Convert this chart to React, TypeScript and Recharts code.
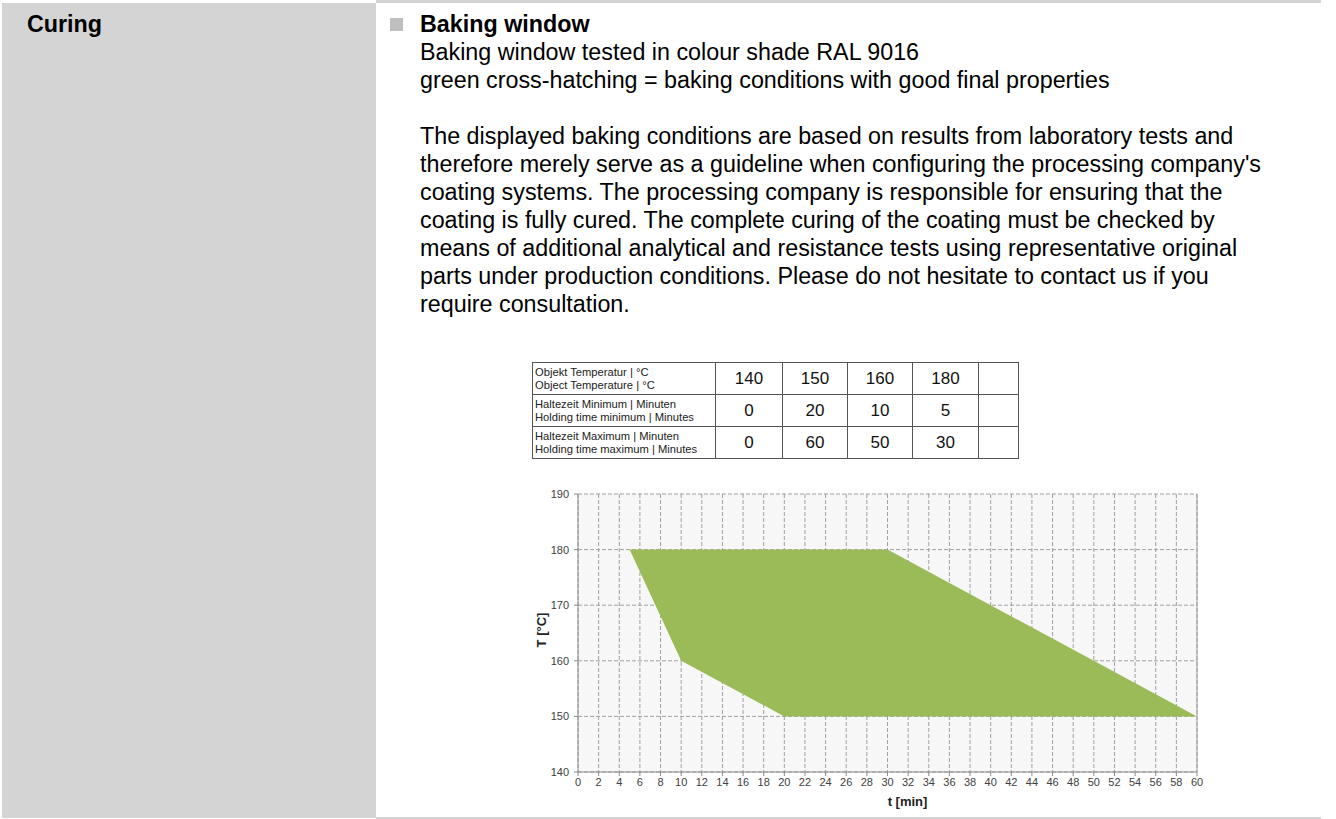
// Baking window sheet: text block, holding-time table and the curing window chart
import React from "react";
import {
  ComposedChart,
  Area,
  XAxis,
  YAxis,
  CartesianGrid,
  ReferenceLine,
} from "recharts";

// table values (°C / minutes)
const objectTemps = [140, 150, 160, 180];
const holdMin = [0, 20, 10, 5];
const holdMax = [0, 60, 50, 30];

// window outline: time in minutes, lower and upper temperature
const windowTimes = [5, 10, 20, 30, 50, 60];
const windowLower = [180, 160, 150, 150, 150, 150];
const windowUpper = [180, 180, 180, 180, 160, 150];

const xTicks = [
  0, 2, 4, 6, 8, 10, 12, 14, 16, 18, 20, 22, 24, 26, 28, 30, 32, 34, 36, 38, 40,
  42, 44, 46, 48, 50, 52, 54, 56, 58, 60,
];
const yTicks = [140, 150, 160, 170, 180, 190];

const introLines = [
  "Baking window tested in colour shade RAL 9016",
  "green cross-hatching = baking conditions with good final properties",
];
const noteLines = [
  "The displayed baking conditions are based on results from laboratory tests and",
  "therefore merely serve as a guideline when configuring the processing company's",
  "coating systems. The processing company is responsible for ensuring that the",
  "coating is fully cured. The complete curing of the coating must be checked by",
  "means of additional analytical and resistance tests using representative original",
  "parts under production conditions. Please do not hesitate to contact us if you",
  "require consultation.",
];

const tableRows = [
  { de: "Objekt Temperatur | °C", en: "Object Temperature | °C", values: objectTemps },
  { de: "Haltezeit Minimum | Minuten", en: "Holding time minimum | Minutes", values: holdMin },
  { de: "Haltezeit Maximum | Minuten", en: "Holding time maximum | Minutes", values: holdMax },
];

const FONT = "Arial, 'Liberation Sans', sans-serif";
const GREEN = "#9BBB59";
const PANEL = "#D4D4D4";
const TEXT_SIZE = 23.3;
const LINE = 28;

const chartData = windowTimes.map((t, i) => ({
  t,
  range: [windowLower[i], windowUpper[i]],
}));

function YLabel(props: any) {
  const vb = props.viewBox || {};
  const cx = vb.x + 21;
  const cy = vb.y + vb.height / 2 - 3;
  return (
    <text
      x={cx}
      y={cy}
      transform={`rotate(-90 ${cx} ${cy})`}
      textAnchor="middle"
      dominantBaseline="central"
      fontFamily={FONT}
      fontSize={13}
      fontWeight="bold"
      fill="#222"
    >
      T [°C]
    </text>
  );
}

function XLabel(props: any) {
  const vb = props.viewBox || {};
  return (
    <text
      x={vb.x + vb.width / 2 + 20}
      y={vb.y + 29}
      textAnchor="middle"
      dominantBaseline="central"
      fontFamily={FONT}
      fontSize={13}
      fontWeight="bold"
      fill="#222"
    >
      t [min]
    </text>
  );
}

function WindowChart() {
  const tick = { fill: "#404040", fontSize: 11, fontFamily: FONT };
  return (
    <ComposedChart
      width={700}
      height={330}
      data={chartData}
      margin={{ top: 14, right: 23, left: 0, bottom: 0 }}
    >
      <CartesianGrid
        stroke="#A0A0A0"
        strokeDasharray="4 2"
        fill="#F7F7F7"
        fillOpacity={1}
      />
      <XAxis
        dataKey="t"
        type="number"
        domain={[0, 60]}
        ticks={xTicks}
        interval={0}
        tick={tick}
        tickSize={4}
        tickMargin={2}
        height={38}
        axisLine={{ stroke: "#8C8C8C" }}
        tickLine={{ stroke: "#8C8C8C" }}
        label={{ content: XLabel }}
      />
      <YAxis
        type="number"
        domain={[140, 190]}
        ticks={yTicks}
        interval={0}
        tick={tick}
        tickSize={4}
        tickMargin={5}
        width={58}
        axisLine={{ stroke: "#8C8C8C" }}
        tickLine={{ stroke: "#8C8C8C" }}
        label={{ content: YLabel }}
      />
      <ReferenceLine x={60} stroke="#A0A0A0" />
      <Area
        type="linear"
        dataKey="range"
        stroke="none"
        fill={GREEN}
        fillOpacity={1}
        isAnimationActive={false}
        dot={false}
        activeDot={false}
      />
    </ComposedChart>
  );
}

function HoldingTable() {
  const cell: React.CSSProperties = {
    border: "1px solid #555",
    padding: 0,
    textAlign: "center",
    fontSize: 17,
    height: 31,
  };
  const cols = [183, 67, 65, 65, 66, 40];
  return (
    <table
      style={{
        position: "absolute",
        left: 532,
        top: 362,
        borderCollapse: "collapse",
        tableLayout: "fixed",
        fontFamily: FONT,
        color: "#111",
      }}
    >
      <colgroup>
        {cols.map((w, i) => (
          <col key={i} style={{ width: w }} />
        ))}
      </colgroup>
      <tbody>
        {tableRows.map((row) => (
          <tr key={row.de}>
            <td
              style={{
                ...cell,
                textAlign: "left",
                fontSize: 11.2,
                lineHeight: "13px",
                paddingLeft: 2,
                color: "#222",
                whiteSpace: "nowrap",
              }}
            >
              {row.de}
              <br />
              {row.en}
            </td>
            {row.values.map((v, i) => (
              <td key={i} style={cell}>
                {v}
              </td>
            ))}
            <td style={cell}></td>
          </tr>
        ))}
      </tbody>
    </table>
  );
}

export default function App() {
  return (
    <div
      style={{
        position: "absolute",
        left: 0,
        top: 0,
        width: 1336,
        height: 819,
        background: "#fff",
        fontFamily: FONT,
        overflow: "hidden",
      }}
    >
      {/* left label column */}
      <div
        style={{
          position: "absolute",
          left: 2,
          top: 3,
          width: 374,
          height: 815,
          background: PANEL,
        }}
      />
      <div style={{ position: "absolute", left: 376, top: 0, width: 945, height: 3, background: PANEL }} />
      <div style={{ position: "absolute", left: 376, top: 817, width: 945, height: 2, background: PANEL }} />
      <div
        style={{
          position: "absolute",
          left: 27,
          top: 10,
          fontSize: TEXT_SIZE,
          lineHeight: `${LINE}px`,
          fontWeight: "bold",
          color: "#000",
        }}
      >
        Curing
      </div>

      {/* bullet + text */}
      <div style={{ position: "absolute", left: 390, top: 18, width: 13, height: 13, background: "#BFBFBF" }} />
      <div
        style={{
          position: "absolute",
          left: 420,
          top: 10,
          fontSize: TEXT_SIZE,
          lineHeight: `${LINE}px`,
          color: "#000",
          whiteSpace: "nowrap",
        }}
      >
        <div style={{ fontWeight: "bold" }}>Baking window</div>
        {introLines.map((l) => (
          <div key={l}>{l}</div>
        ))}
        <div style={{ height: LINE }} />
        {noteLines.map((l) => (
          <div key={l}>{l}</div>
        ))}
      </div>

      <HoldingTable />

      <div style={{ position: "absolute", left: 520, top: 480 }}>
        <WindowChart />
      </div>
    </div>
  );
}
